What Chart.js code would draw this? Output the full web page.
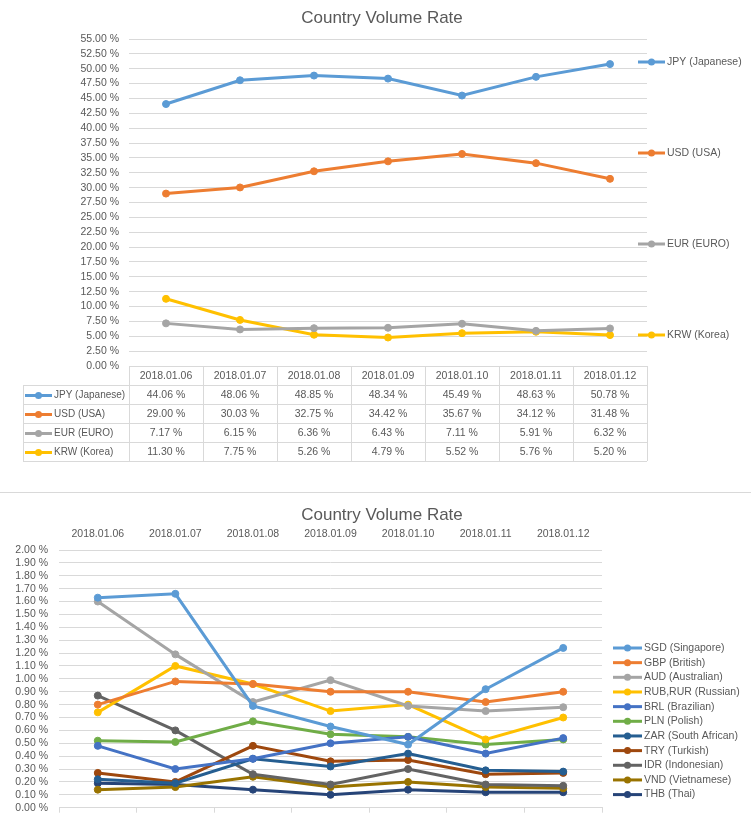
<!DOCTYPE html>
<html>
<head>
<meta charset="utf-8">
<script src="https://cdn.jsdelivr.net/npm/chart.js@4.4.1/dist/chart.umd.min.js"></script>
<style>
  body { margin: 0; background: #fff; width: 751px; height: 825px; overflow: hidden; position: relative; }
  #top { position: absolute; left: 0; top: 0; width: 751px; height: 492px; }
  #sep { position: absolute; left: 0; top: 492px; width: 751px; height: 1px; background: #d9d9d9; }
  #bot { position: absolute; left: 0; top: 494px; width: 751px; height: 331px; }
</style>
</head>
<body>
<div id="top"><canvas id="c1"></canvas></div>
<div id="sep"></div>
<div id="bot"><canvas id="c2"></canvas></div>
<script>
const chartTitle = 'Country Volume Rate';
const dates = ['2018.01.06', '2018.01.07', '2018.01.08', '2018.01.09', '2018.01.10', '2018.01.11', '2018.01.12'];

// top chart (%)
const majorNames = ['JPY (Japanese)', 'USD (USA)', 'EUR (EURO)', 'KRW (Korea)'];
const majorColors = ['#5B9BD5', '#ED7D31', '#A5A5A5', '#FFC000'];
const jpy = [44.06, 48.06, 48.85, 48.34, 45.49, 48.63, 50.78];
const usd = [29.00, 30.03, 32.75, 34.42, 35.67, 34.12, 31.48];
const eur = [7.17, 6.15, 6.36, 6.43, 7.11, 5.91, 6.32];
const krw = [11.30, 7.75, 5.26, 4.79, 5.52, 5.76, 5.20];

// bottom chart (%)
const minorNames = ['SGD (Singapore)', 'GBP (British)', 'AUD (Australian)', 'RUB,RUR (Russian)', 'BRL (Brazilian)',
  'PLN (Polish)', 'ZAR (South African)', 'TRY (Turkish)', 'IDR (Indonesian)', 'VND (Vietnamese)', 'THB (Thai)'];
const minorColors = ['#5B9BD5', '#ED7D31', '#A5A5A5', '#FFC000', '#4472C4', '#70AD47', '#255E91', '#9E480E', '#636363', '#997300', '#264478'];
const sgd = [1.63, 1.66, 0.79, 0.63, 0.49, 0.92, 1.24];
const gbp = [0.80, 0.98, 0.96, 0.90, 0.90, 0.82, 0.90];
const aud = [1.60, 1.19, 0.82, 0.99, 0.79, 0.75, 0.78];
const rub = [0.74, 1.10, 0.96, 0.75, 0.80, 0.53, 0.70];
const brl = [0.48, 0.30, 0.38, 0.50, 0.55, 0.42, 0.54];
const pln = [0.52, 0.51, 0.67, 0.57, 0.55, 0.49, 0.53];
const zar = [0.22, 0.19, 0.38, 0.32, 0.42, 0.29, 0.28];
const tryy = [0.27, 0.20, 0.48, 0.36, 0.37, 0.26, 0.27];
const idr = [0.87, 0.60, 0.26, 0.18, 0.30, 0.18, 0.17];
const vnd = [0.14, 0.16, 0.24, 0.16, 0.20, 0.16, 0.15];
const thb = [0.19, 0.18, 0.14, 0.10, 0.14, 0.12, 0.12];

const FONT = '"Liberation Sans", Arial, sans-serif';
const TXT = '#595959';
const GRID = '#d9d9d9';
Chart.defaults.font.family = FONT;
Chart.defaults.font.size = 10.5;
Chart.defaults.color = TXT;

const pct = v => Number(v).toFixed(2) + ' %';

function makeSets(names, colors, rows) {
  return rows.map((d, i) => ({
    label: names[i],
    data: d,
    borderColor: colors[i],
    backgroundColor: colors[i],
    borderWidth: 3,
    pointRadius: 3.5,
    pointBorderWidth: 1,
    tension: 0
  }));
}

function drawKey(ctx, x0, len, y, color) {
  ctx.strokeStyle = color;
  ctx.lineWidth = 3;
  ctx.beginPath();
  ctx.moveTo(x0, y);
  ctx.lineTo(x0 + len, y);
  ctx.stroke();
  ctx.fillStyle = color;
  ctx.beginPath();
  ctx.arc(x0 + len / 2, y, 3.5, 0, Math.PI * 2);
  ctx.fill();
}

function drawTitle(ctx, y) {
  ctx.fillStyle = TXT;
  ctx.font = '17px ' + FONT;
  ctx.textAlign = 'center';
  ctx.textBaseline = 'middle';
  ctx.fillText(chartTitle, 382, y);
}

// title, right legend and data table for the top chart
const topDecor = {
  id: 'topDecor',
  afterDraw(chart) {
    const { ctx, chartArea: a } = chart;
    const x = chart.scales.x;
    ctx.save();
    drawTitle(ctx, 18);

    ctx.font = '10.5px ' + FONT;
    ctx.textBaseline = 'middle';
    chart.data.datasets.forEach((ds, i) => {
      const y = 62 + i * 91;
      drawKey(ctx, a.right - 9, 27, y, ds.borderColor);
      ctx.fillStyle = TXT;
      ctx.textAlign = 'left';
      ctx.fillText(ds.label, a.right + 20, y);
    });

    // table
    const rowH = 19;
    const half = (x.getPixelForValue(1) - x.getPixelForValue(0)) / 2;
    const left = x.getPixelForValue(0) - half;
    const right = x.getPixelForValue(dates.length - 1) + half;
    const keyLeft = 23;
    const top = a.bottom;
    const n = chart.data.datasets.length;
    const bottom = top + rowH * (n + 1);

    ctx.strokeStyle = GRID;
    ctx.lineWidth = 1;
    ctx.beginPath();
    ctx.moveTo(left, top + 0.5); ctx.lineTo(right, top + 0.5);
    for (let r = 1; r <= n + 1; r++) {
      const yy = Math.round(top + r * rowH) + 0.5;
      ctx.moveTo(keyLeft, yy); ctx.lineTo(right, yy);
    }
    for (let c = 0; c <= dates.length; c++) {
      const xx = Math.round(left + c * half * 2) + 0.5;
      ctx.moveTo(xx, top); ctx.lineTo(xx, bottom);
    }
    ctx.moveTo(keyLeft + 0.5, top + rowH); ctx.lineTo(keyLeft + 0.5, bottom);
    ctx.stroke();

    ctx.fillStyle = TXT;
    ctx.textAlign = 'center';
    dates.forEach((d, j) => ctx.fillText(d, x.getPixelForValue(j), top + rowH / 2 + 1));
    chart.data.datasets.forEach((ds, i) => {
      const yy = top + rowH * (i + 1) + rowH / 2 + 1;
      drawKey(ctx, 25, 27, yy, ds.borderColor);
      ctx.fillStyle = TXT;
      ctx.textAlign = 'left';
      ctx.font = '10px ' + FONT;
      ctx.fillText(ds.label, 54, yy);
      ctx.font = '10.5px ' + FONT;
      ctx.textAlign = 'center';
      ds.data.forEach((v, j) => ctx.fillText(pct(v), x.getPixelForValue(j), yy));
    });
    ctx.restore();
  }
};

new Chart(document.getElementById('c1'), {
  type: 'line',
  data: {
    labels: dates,
    datasets: makeSets(majorNames, majorColors, [jpy, usd, eur, krw])
  },
  options: {
    responsive: true,
    maintainAspectRatio: false,
    animation: false,
    events: [],
    layout: { padding: { top: 39, right: 104, bottom: 126, left: 0 } },
    plugins: { legend: { display: false }, title: { display: false }, tooltip: { enabled: false } },
    scales: {
      x: { display: false, offset: true },
      y: {
        min: 0, max: 55,
        ticks: { stepSize: 2.5, autoSkip: false, padding: 10, callback: v => pct(v) },
        grid: { color: GRID, drawTicks: false },
        border: { display: false },
        afterFit(s) { s.width = 129; }
      }
    }
  },
  plugins: [topDecor]
});

// title and right legend for the bottom chart
const botDecor = {
  id: 'botDecor',
  afterDraw(chart) {
    const { ctx, chartArea: a } = chart;
    ctx.save();
    drawTitle(ctx, 21);
    ctx.font = '10.5px ' + FONT;
    ctx.textBaseline = 'middle';
    chart.data.datasets.forEach((ds, i) => {
      const y = 154 + i * 14.66;
      drawKey(ctx, a.right + 11, 29, y, ds.borderColor);
      ctx.fillStyle = TXT;
      ctx.textAlign = 'left';
      ctx.fillText(ds.label, a.right + 42, y);
    });
    ctx.restore();
  }
};

new Chart(document.getElementById('c2'), {
  type: 'line',
  data: {
    labels: dates,
    datasets: makeSets(minorNames, minorColors, [sgd, gbp, aud, rub, brl, pln, zar, tryy, idr, vnd, thb])
  },
  options: {
    responsive: true,
    maintainAspectRatio: false,
    animation: false,
    events: [],
    layout: { padding: { top: 32, right: 149, bottom: 10, left: 0 } },
    plugins: { legend: { display: false }, title: { display: false }, tooltip: { enabled: false } },
    scales: {
      x: {
        offset: true,
        grid: { offset: true, drawOnChartArea: false, color: GRID, tickLength: 5 },
        border: { color: GRID },
        ticks: { display: false },
        afterFit(s) { s.height = 5; }
      },
      x2: {
        type: 'category',
        labels: dates,
        position: 'top',
        offset: true,
        grid: { display: false, drawTicks: false },
        border: { display: false },
        ticks: { padding: 10 },
        afterFit(s) { s.height = 24; }
      },
      y: {
        min: 0, max: 2,
        ticks: { stepSize: 0.1, autoSkip: false, padding: 11, callback: v => pct(v) },
        grid: { color: GRID, drawTicks: false },
        border: { display: false },
        afterFit(s) { s.width = 59; }
      }
    }
  },
  plugins: [botDecor]
});
</script>
</body>
</html>
